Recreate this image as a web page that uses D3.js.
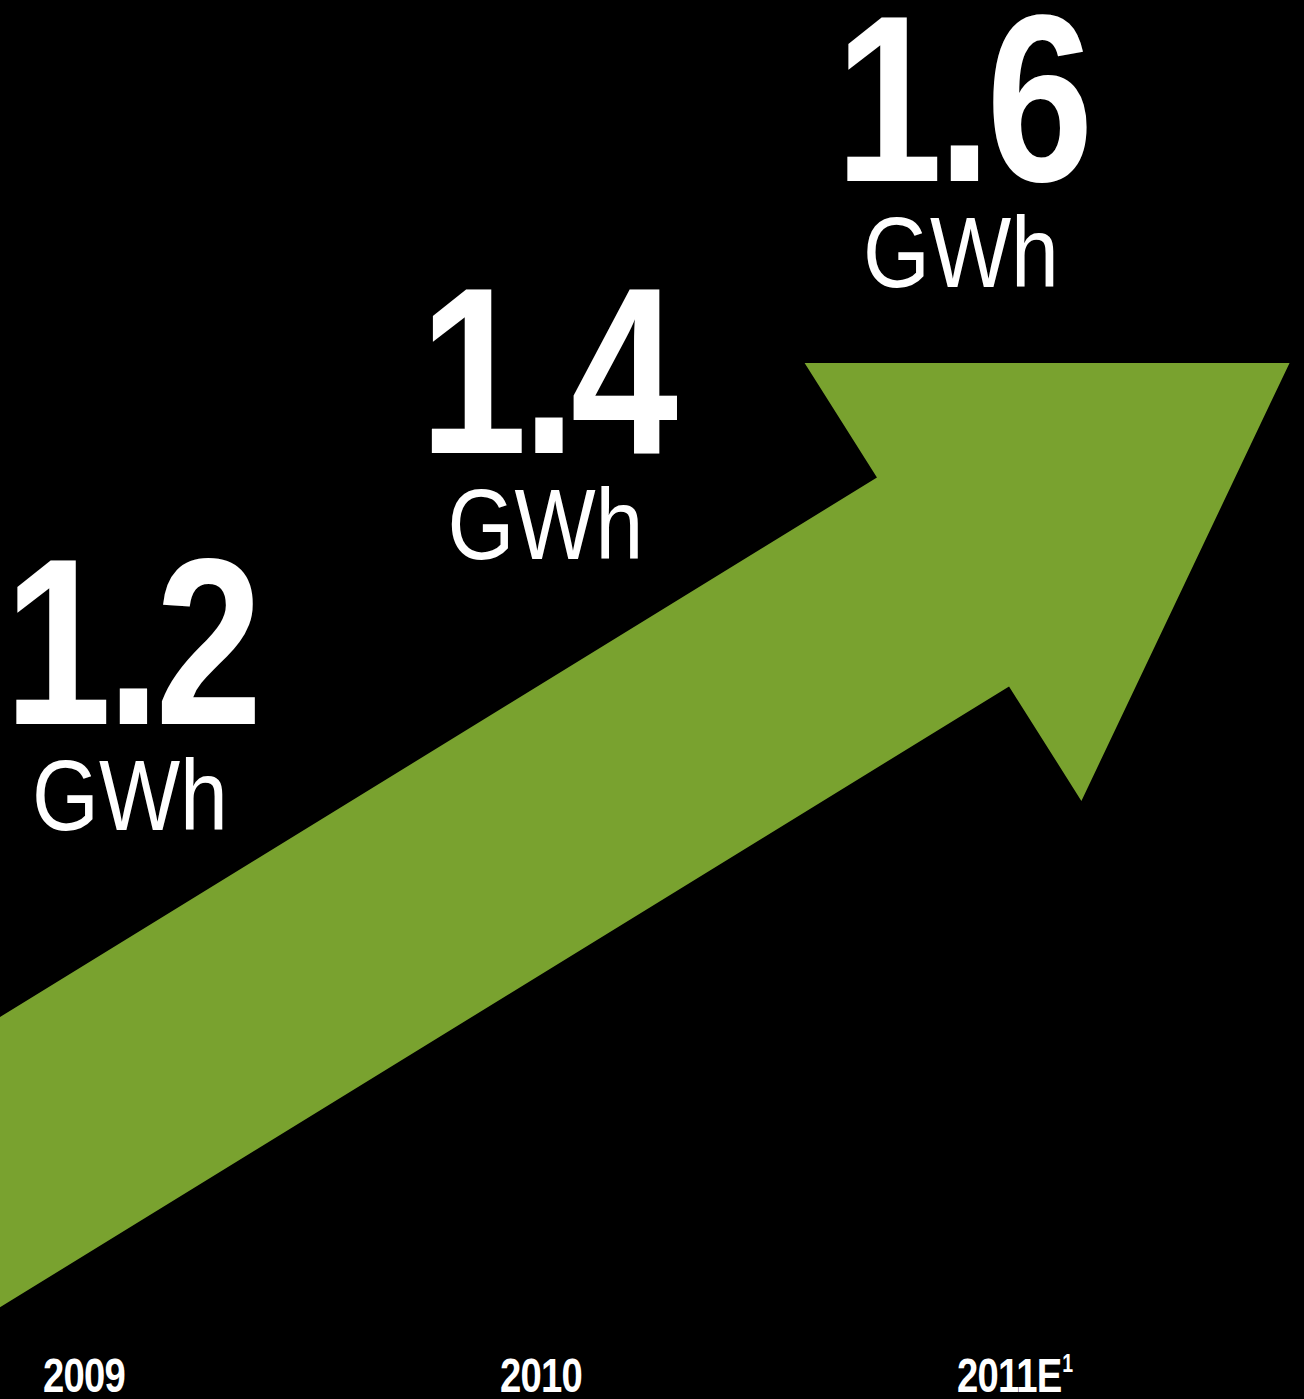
<!DOCTYPE html>
<html><head><meta http-equiv="Content-Type" content="text/html; charset=UTF-8"><style>
html, body { margin: 0; padding: 0; background: #000; }
svg { display: block; }
text { font-family: "Liberation Sans", Arial, sans-serif; fill: #fff; }
</style>
</head>
<body>
<svg width="1304" height="1399"></svg>
<script src="https://cdn.jsdelivr.net/npm/d3@7"></script>
<script>

var years = ["2009", "2010", "2011"];
var yearLabels = ["2009", "2010", "2011E"];
var yearNotes = ["", "", "1"];
var values = [1.2, 1.4, 1.6];
var unit = "GWh";

var svg = d3.select("svg"),
    width = +svg.attr("width"),
    height = +svg.attr("height");

svg.append("rect")
    .attr("width", width)
    .attr("height", height)
    .attr("fill", "#000");

// year axis along the bottom, value labels step up with the value
var xYear = d3.scalePoint().domain(years).range([43, 957]);
var xVal = d3.scaleLinear().domain([1.2, 1.6]).range([131, 962]);
var y = d3.scaleLinear().domain([1.2, 1.6]).range([724, 181]);

// arrow: head base centre, angles and sizes
var arrow = { cx: 943, cy: 582, headAngle: 32.3, shaftAngle: 31.6,
              headLen: 410, headHalf: 259, shaftHalf: 123.6, shaftLen: 1400 };

function arrowPath(a) {
  var ha = a.headAngle * Math.PI / 180, sa = a.shaftAngle * Math.PI / 180;
  var u = [Math.cos(ha), -Math.sin(ha)], n = [Math.sin(ha), Math.cos(ha)];
  var us = [Math.cos(sa), -Math.sin(sa)];
  var p = d3.path();
  var n1 = [a.cx - n[0] * a.shaftHalf, a.cy - n[1] * a.shaftHalf],
      n2 = [a.cx + n[0] * a.shaftHalf, a.cy + n[1] * a.shaftHalf];
  p.moveTo(n1[0] - us[0] * a.shaftLen, n1[1] - us[1] * a.shaftLen);
  p.lineTo(n1[0], n1[1]);
  p.lineTo(a.cx - n[0] * a.headHalf, a.cy - n[1] * a.headHalf);
  p.lineTo(a.cx + u[0] * a.headLen, a.cy + u[1] * a.headLen);
  p.lineTo(a.cx + n[0] * a.headHalf, a.cy + n[1] * a.headHalf);
  p.lineTo(n2[0], n2[1]);
  p.lineTo(n2[0] - us[0] * a.shaftLen, n2[1] - us[1] * a.shaftLen);
  p.closePath();
  return p.toString();
}

svg.append("path")
    .attr("d", arrowPath(arrow))
    .attr("fill", "#79a22f");

// condensed look: squeeze Liberation Sans horizontally
var labels = svg.append("g")
  .selectAll("g")
  .data(values)
  .enter().append("g");

labels.append("text")
    .attr("transform", function(d) { return "translate(" + xVal(d) + "," + y(d) + ") scale(0.81,1)"; })
    .attr("text-anchor", "middle")
    .attr("font-size", 238)
    .attr("font-weight", "bold")
    .attr("letter-spacing", -6)
    .text(function(d) { return d3.format(".1f")(d); });

labels.append("text")
    .attr("transform", function(d) { return "translate(" + (xVal(d) - 1) + "," + (y(d) + 106) + ") scale(0.86,1)"; })
    .attr("text-anchor", "middle")
    .attr("font-size", 100)
    .text(unit);

var yl = svg.append("g")
  .selectAll("text")
  .data(years)
  .enter().append("text")
    .attr("transform", function(d) { return "translate(" + xYear(d) + ",1392) scale(0.78,1)"; })
    .attr("font-size", 49)
    .attr("font-weight", "bold")
    .attr("letter-spacing", -1)
    .text(function(d, i) { return yearLabels[i]; });

yl.append("tspan")
    .attr("dy", -20)
    .attr("dx", 1)
    .attr("font-size", 25)
    .text(function(d, i) { return yearNotes[i]; });

</script>
</body></html>
